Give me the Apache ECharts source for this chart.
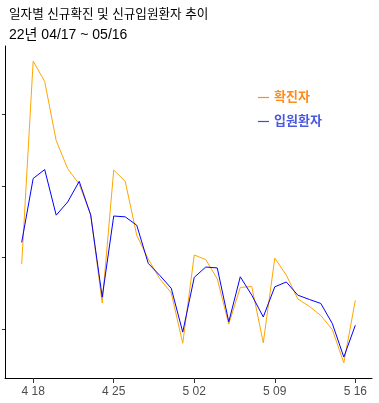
<!DOCTYPE html>
<html>
<head>
<meta charset="utf-8">
<script src="https://cdn.jsdelivr.net/npm/echarts@6/dist/echarts.min.js"></script>
<style>
html,body{margin:0;padding:0;background:#fff;}
#chart{width:379px;height:403px;}
</style>
</head>
<body>
<div id="chart"></div>
<script>
// Dates (categories), 2022-04-17 .. 2022-05-16
const dates = ['04/17','04/18','04/19','04/20','04/21','04/22','04/23','04/24','04/25','04/26',
               '04/27','04/28','04/29','04/30','05/01','05/02','05/03','05/04','05/05','05/06',
               '05/07','05/08','05/09','05/10','05/11','05/12','05/13','05/14','05/15','05/16'];
// New confirmed cases (thousands)
const confirmed = [47.7,118.5,111.4,90.8,81.0,75.6,65.0,34.2,80.5,76.6,
                   57.8,49.5,42.6,37.7,20.1,50.9,49.3,42.6,26.8,39.6,
                   39.9,20.3,49.8,43.9,35.6,33.0,29.8,24.9,13.3,35.1];
// New hospital admissions (scaled to the same axis)
const hospitalized = [55.3,77.6,80.7,64.8,69.4,76.6,64.8,36.2,64.5,64.2,
                      61.3,48.0,43.8,39.3,24.0,43.1,46.7,46.4,27.6,43.3,
                      36.9,29.3,39.8,41.5,36.9,35.4,34.0,27.0,15.3,26.4];
// Tick labels
const xTickIndex = [1,8,15,22,29];
const xTickLabels = ['4 18','4 25','5 02','5 09','5 16'];
const yTicks = [25,50,75,100];

const FONT = '"Liberation Sans", Arial, "Noto Sans CJK KR", sans-serif';
const chart = echarts.init(document.getElementById('chart'));

const toPairs = arr => arr.map((v,i)=>[i,v]);

chart.setOption({
  animation:false,
  title:[
    {text:'일자별 신규확진 및 신규입원환자 추이', left:4, top:3,
     textStyle:{fontSize:12.6, fontWeight:'normal', color:'#000', fontFamily:FONT}},
    {text:'22년 04/17 ~ 05/16', left:4, top:23,
     textStyle:{fontSize:14, fontWeight:'normal', color:'#000', fontFamily:FONT}}
  ],
  legend:{
    orient:'vertical', left:253, top:86, itemGap:11,
    icon:'rect', itemWidth:11, itemHeight:1.2,
    textStyle:{fontSize:13, fontWeight:'bold', fontFamily:FONT, padding:[0,0,0,0]},
    data:[
      {name:'확진자', itemStyle:{color:'#ff8c1a'}, textStyle:{color:'#ff8c1a'}},
      {name:'입원환자', itemStyle:{color:'#3a4ee0'}, textStyle:{color:'#4a5ae0'}}
    ]
  },
  grid:{left:5, right:7, top:46, bottom:25, containLabel:false},
  xAxis:{
    type:'value', min:-1.45, max:30.45,
    axisLine:{show:true, onZero:false, lineStyle:{color:'#000', width:1}},
    axisTick:{show:true, length:5, inside:false, customValues:xTickIndex, lineStyle:{color:'#333'}},
    axisLabel:{show:true, customValues:xTickIndex, margin:8, fontSize:12, color:'#4d4d4d', fontFamily:FONT,
      formatter:v=>{const k=xTickIndex.indexOf(Math.round(v)); return k>=0?xTickLabels[k]:'';}},
    splitLine:{show:false}
  },
  yAxis:{
    type:'value', min:8.0, max:123.8,
    axisLine:{show:true, onZero:false, lineStyle:{color:'#000', width:1}},
    axisTick:{show:true, length:3, inside:false, customValues:yTicks, lineStyle:{color:'#333'}},
    axisLabel:{show:false},
    splitLine:{show:false}
  },
  series:[
    {name:'확진자', type:'line', data:toPairs(confirmed), showSymbol:false, symbol:'none',
     lineStyle:{color:'#FFA500', width:1}, itemStyle:{color:'#FFA500'}},
    {name:'입원환자', type:'line', data:toPairs(hospitalized), showSymbol:false, symbol:'none',
     lineStyle:{color:'#0000FF', width:1}, itemStyle:{color:'#0000FF'}}
  ]
});
</script>
</body>
</html>
